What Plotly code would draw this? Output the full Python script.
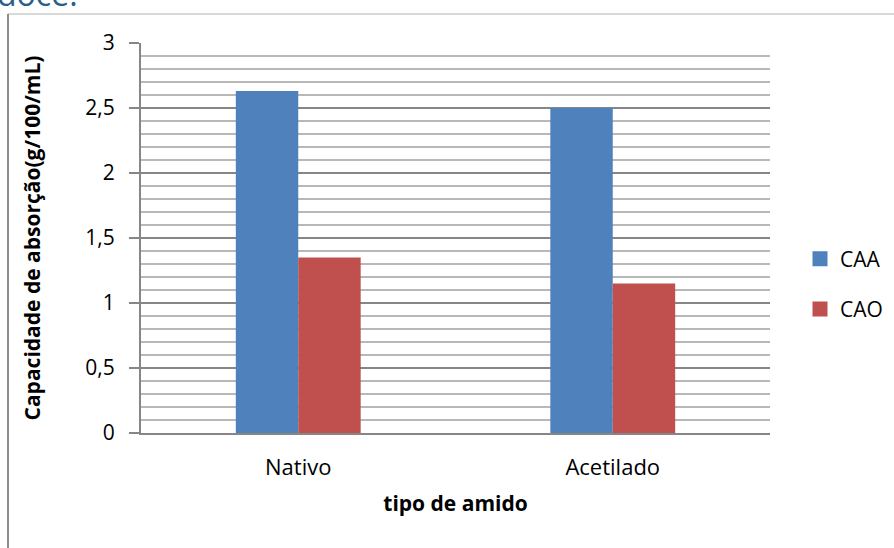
import plotly.graph_objects as go

categories = ["Nativo", "Acetilado"]
caa_values = [2.63, 2.50]
cao_values = [1.35, 1.15]
series_names = ["CAA", "CAO"]
series_colors = ["#4f81bd", "#c0504d"]
y_tick_values = [0, 0.5, 1, 1.5, 2, 2.5, 3]

FONT = "Open Sans"
W, H = 894, 548
L, R, T, B = 141, 124, 43, 115

fig = go.Figure()
fig.add_trace(go.Bar(x=categories, y=caa_values, name=series_names[0],
                     marker=dict(color=series_colors[0], line=dict(width=0)),
                     showlegend=False))
fig.add_trace(go.Bar(x=categories, y=cao_values, name=series_names[1],
                     marker=dict(color=series_colors[1], line=dict(width=0)),
                     showlegend=False))
# legend entries with larger square swatches
for name, color in zip(series_names, series_colors):
    fig.add_trace(go.Scatter(x=[None], y=[None], mode="markers", name=name,
                             marker=dict(symbol="square", size=15, color=color),
                             legendgroup=name))

pw = W - L - R
ph = H - T - B

def px_x(p):
    return (p - L) / pw

def px_y(p):
    return (H - B - p) / ph

fig.update_layout(
    width=W, height=H,
    margin=dict(l=L, r=R, t=T, b=B, autoexpand=False),
    paper_bgcolor="white", plot_bgcolor="white",
    separators=", ",
    barmode="group", bargap=0.603, bargroupgap=0,
    font=dict(family=FONT, color="#000000"),
    showlegend=True,
    legend=dict(x=px_x(800), y=px_y(284), xanchor="left", yanchor="middle",
                font=dict(size=21, family=FONT), tracegroupgap=20,
                bgcolor="rgba(0,0,0,0)", itemwidth=30),
    xaxis=dict(
        showgrid=False, showline=True, linecolor="#868686", linewidth=2,
        ticks="", tickfont=dict(size=22, family=FONT),
        ticklabelstandoff=14,
        title=dict(text="<b>tipo de amido</b>", font=dict(size=21, family=FONT),
                   standoff=16),
    ),
    yaxis=dict(
        range=[0, 3], tickvals=y_tick_values,
        showgrid=True, gridcolor="#868686", gridwidth=2,
        showline=True, linecolor="#868686", linewidth=2,
        ticks="outside", ticklen=10, tickcolor="#868686", tickwidth=2,
        tickfont=dict(size=21, family=FONT), ticklabelstandoff=10,
        minor=dict(dtick=0.1, showgrid=True, gridcolor="#b8b8b8", gridwidth=2, ticks=""),
        zeroline=False,
        title=dict(text="<b>Capacidade de absorção(g/100/mL)</b>",
                   font=dict(size=21, family=FONT), standoff=39),
    ),
)

# outer chart frame (partially visible)
fig.add_shape(type="line", xref="paper", yref="paper",
              x0=px_x(8), x1=px_x(900), y0=px_y(14), y1=px_y(14),
              line=dict(color="#d9d9d9", width=2))
fig.add_shape(type="line", xref="paper", yref="paper",
              x0=px_x(8), x1=px_x(8), y0=px_y(14), y1=px_y(560),
              line=dict(color="#8c8c8c", width=2))

# cut-off text from the page above the chart
fig.add_annotation(text="doce.", xref="paper", yref="paper",
                   x=px_x(-5), y=px_y(17), xanchor="left", yanchor="bottom",
                   showarrow=False, font=dict(size=32, family=FONT, color="#2a5d8c"))

fig.write_html("out.html")
